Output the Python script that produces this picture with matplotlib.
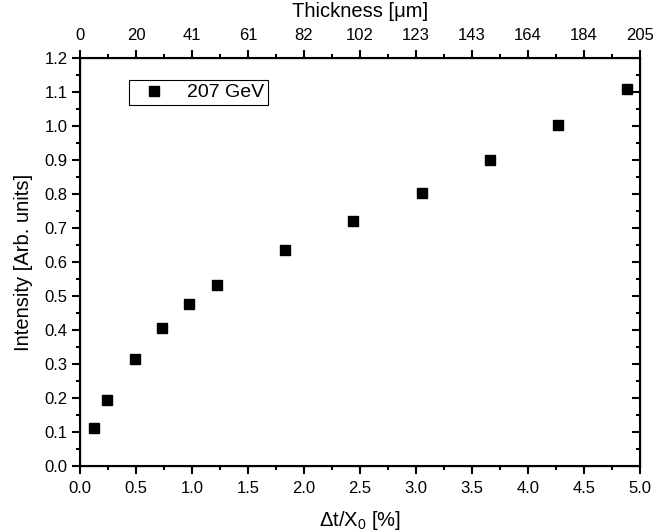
import matplotlib
matplotlib.use("Agg")
import matplotlib.pyplot as plt
from matplotlib.ticker import MultipleLocator, AutoMinorLocator

plt.rcParams['font.family'] = ['Liberation Sans', 'DejaVu Sans']
plt.rcParams['mathtext.fontset'] = 'custom'
plt.rcParams['mathtext.rm'] = 'Liberation Sans'
plt.rcParams['mathtext.it'] = 'Liberation Sans'

# data
dt_x0 = [0.122, 0.244, 0.488, 0.732, 0.976, 1.22, 1.83, 2.44, 3.05, 3.66, 4.27, 4.88]
intensity = [0.111, 0.193, 0.315, 0.405, 0.475, 0.532, 0.636, 0.719, 0.803, 0.899, 1.003, 1.108]
top_ticks = [0, 0.5, 1.0, 1.5, 2.0, 2.5, 3.0, 3.5, 4.0, 4.5, 5.0]
top_labels = ["0", "20", "41", "61", "82", "102", "123", "143", "164", "184", "205"]

fig = plt.figure(figsize=(6.53, 5.31), dpi=100)
ax = fig.add_axes([0.1225, 0.1224, 0.8575, 0.7686])

ax.plot(dt_x0, intensity, 's', color='black', markersize=6.8, label='207 GeV')

ax.set_xlim(0, 5)
ax.set_ylim(0, 1.2)
ax.xaxis.set_major_locator(MultipleLocator(0.5))
ax.xaxis.set_minor_locator(AutoMinorLocator(2))
ax.yaxis.set_major_locator(MultipleLocator(0.1))
ax.yaxis.set_minor_locator(AutoMinorLocator(2))
ax.xaxis.set_major_formatter(plt.FormatStrFormatter('%.1f'))
ax.yaxis.set_major_formatter(plt.FormatStrFormatter('%.1f'))

for s in ax.spines.values():
    s.set_linewidth(1.5)
ax.tick_params(which='both', direction='out', width=1.5, labelsize=12, top=False, right=False)
ax.tick_params(which='major', length=5.5)
ax.tick_params(which='minor', length=3)
ax.tick_params(axis='x', which='major', pad=5)
ax.tick_params(axis='y', which='major', pad=3.5)

ax.set_xlabel(r"$\Delta$t/X$_0$ [%]", fontsize=14.5, labelpad=10)
ax.set_ylabel("Intensity [Arb. units]", fontsize=14.5, labelpad=8)

# right axis: inward ticks, no labels
axr = ax.twinx()
axr.set_ylim(ax.get_ylim())
axr.yaxis.set_major_locator(MultipleLocator(0.1))
axr.yaxis.set_minor_locator(AutoMinorLocator(2))
axr.tick_params(which='both', direction='in', width=1.5, labelright=False)
axr.tick_params(which='major', length=5.5)
axr.tick_params(which='minor', length=3)

# top axis: thickness
axt = ax.twiny()
axt.set_xlim(ax.get_xlim())
axt.set_xticks(top_ticks)
axt.set_xticklabels(top_labels)
axt.xaxis.set_minor_locator(AutoMinorLocator(2))
axt.tick_params(which='both', direction='out', width=1.5, labelsize=12)
axt.tick_params(which='major', length=5.5, pad=5)
axt.tick_params(which='minor', length=3)
axt.set_xlabel("Thickness [\u03bcm]", fontsize=14.5, labelpad=8)

leg = ax.legend(loc='upper left', bbox_to_anchor=(0.0875, 0.946), borderaxespad=0,
                fontsize=14, fancybox=False, framealpha=1, edgecolor='black',
                handletextpad=0.6, borderpad=0.2, handlelength=2.2)
leg.get_frame().set_linewidth(0.8)

fig.savefig("out.png", dpi=100)
